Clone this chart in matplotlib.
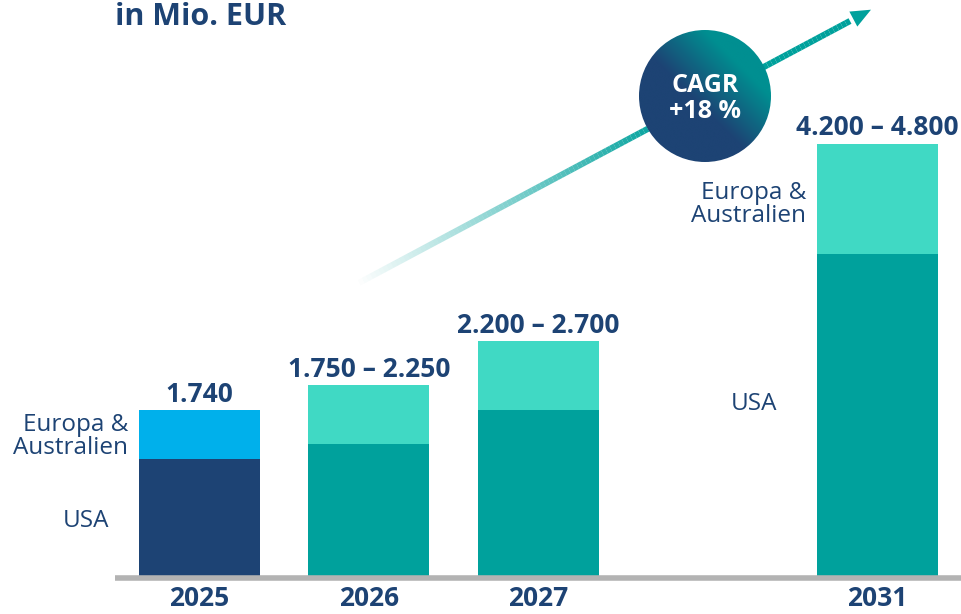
import numpy as np
import matplotlib.pyplot as plt
from matplotlib.collections import LineCollection
from matplotlib.patches import Circle, FancyArrow

# data (Mio. EUR)
years = ['2025', '2026', '2027', '2031']
pos = [0, 1, 2, 4]
usa = [1230, 1390, 1740, 3360]
totals = [1740, 2000, 2450, 4500]
europa = [t - u for t, u in zip(totals, usa)]
top_labels = ['1.740', '1.750 – 2.250', '2.200 – 2.700', '4.200 – 4.800']

navy = '#1d4374'
col_usa = [navy, '#00a19c', '#00a19c', '#00a19c']
col_eu = ['#00b0eb', '#40d9c4', '#40d9c4', '#40d9c4']

plt.rcParams['font.family'] = ['Open Sans', 'DejaVu Sans']

fig = plt.figure(figsize=(9.61, 6.14), dpi=100)
ax = fig.add_axes([0, 0, 1, 1])
ax.set_xlim(-1.177, 4.493)
ax.set_ylim(-373, 5987)
ax.axis('off')

ax.bar(pos, usa, width=0.714, color=col_usa, linewidth=0, zorder=3)
ax.bar(pos, europa, bottom=usa, width=0.714, color=col_eu, linewidth=0, zorder=3)

# baseline
ax.plot([-0.5, 4.6], [0, 0], color='#b3b3b3', lw=4, solid_capstyle='butt', zorder=4)

for p, t, lab, y in zip(pos, totals, top_labels, years):
    ax.text(p, t + 85, lab, ha='center', va='baseline', fontsize=19, fontweight='bold', color=navy)
    ax.text(p, -292, y, ha='center', va='baseline', fontsize=19, fontweight='bold', color=navy)

# side labels
ax.text(-0.42, 1470, 'Europa &\nAustralien', ha='right', va='center', fontsize=17.5,
        color=navy, linespacing=0.95)
ax.text(-0.67, 590, 'USA', ha='center', va='center', fontsize=17.5, color=navy)
ax.text(3.58, 3870, 'Europa &\nAustralien', ha='right', va='center', fontsize=17.5,
        color=navy, linespacing=0.95)
ax.text(3.27, 1800, 'USA', ha='center', va='center', fontsize=17.5, color=navy)

# overlay in pixel coordinates for arrow, circle, title
ov = fig.add_axes([0, 0, 1, 1], zorder=5)
ov.set_xlim(0, 961)
ov.set_ylim(614, 0)
ov.axis('off')
ov.patch.set_alpha(0)

x0, y0, x1, y1 = 355, 285, 850, 21
n = 120
xs = np.linspace(x0, x1, n + 1)
ys = np.linspace(y0, y1, n + 1)
segs = [[(xs[i], ys[i]), (xs[i + 1], ys[i + 1])] for i in range(n)]
alphas = np.clip(np.linspace(0, 1.6, n), 0, 1)
cols = [(0.0, 0.63, 0.61, a) for a in alphas]
ov.add_collection(LineCollection(segs, colors=cols, linewidths=4.5, capstyle='butt'))
ov.add_patch(FancyArrow(845, 23.5, 26, -13.8, width=0, head_width=17, head_length=20,
                        length_includes_head=True, color='#00a19c', lw=0))

# CAGR circle with gradient
cx, cy, r = 705, 96, 66
gx, gy = np.meshgrid(np.linspace(-1, 1, 200), np.linspace(-1, 1, 200))
g = np.clip((gx - gy) * 0.5 + 0.5, 0, 1)
c0 = np.array([0x1d, 0x43, 0x74]) / 255
c1 = np.array([0x00, 0x8f, 0x91]) / 255
t = np.clip((g - 0.4) / 0.6, 0, 1)[..., None]
img = c0 * (1 - t) + c1 * t
im = ov.imshow(img, extent=(cx - r, cx + r, cy + r, cy - r), origin='upper', zorder=6)
clip = Circle((cx, cy), r, transform=ov.transData, facecolor='none', edgecolor='none')
ov.add_patch(clip)
im.set_clip_path(clip)
ov.text(cx, cy - 11, 'CAGR', ha='center', va='center', fontsize=18, fontweight='bold',
        color='white', zorder=7)
ov.text(cx, cy + 16, '+18 %', ha='center', va='center', fontsize=18, fontweight='bold',
        color='white', zorder=7)

ov.text(115, 17, 'in Mio. EUR', ha='left', va='center', fontsize=22, fontweight='bold', color=navy)

fig.savefig('out.png', dpi=100)
